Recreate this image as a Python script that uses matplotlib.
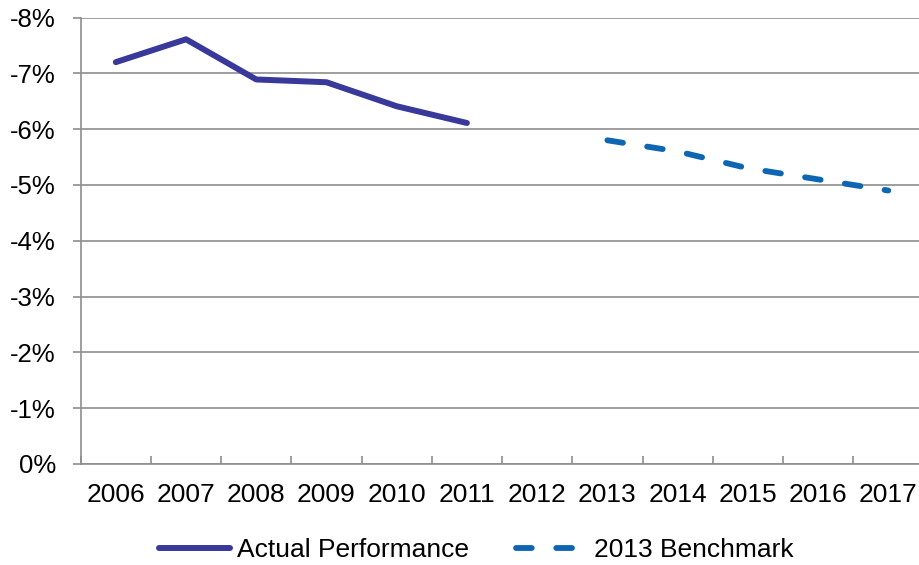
import matplotlib
matplotlib.use("Agg")
import matplotlib.pyplot as plt
from matplotlib.ticker import FixedLocator

years = ["2006", "2007", "2008", "2009", "2010", "2011",
         "2012", "2013", "2014", "2015", "2016", "2017"]
actual_years = ["2006", "2007", "2008", "2009", "2010", "2011"]
actual = [-7.2, -7.61, -6.89, -6.84, -6.41, -6.11]
bench_years = ["2013", "2014", "2015", "2016", "2017"]
benchmark = [-5.8, -5.6, -5.3, -5.1, -4.9]
y_ticks = [0, -1, -2, -3, -4, -5, -6, -7, -8]

plt.rcParams["font.family"] = ["Liberation Sans", "DejaVu Sans"]
grid_color = "#8E8E8E"

fig = plt.figure(figsize=(9.19, 5.65), dpi=100)
ax = fig.add_axes([0.0878, 0.1788, 0.917, 0.7902])

xa = [years.index(y) for y in actual_years]
xb = [years.index(y) for y in bench_years]

ax.plot(xa, actual, color="#38399A", lw=4.3, solid_capstyle="round",
        solid_joinstyle="round", label="Actual Performance", zorder=3)
ax.plot(xb, benchmark, color="#0E66B2", lw=4.2, dashes=(2.7, 4.2),
        dash_capstyle="round", label="2013 Benchmark", zorder=3)

ax.set_xlim(-0.5, len(years) - 0.5)
ax.set_ylim(0, -8)

ax.set_yticks(y_ticks)
ax.set_yticklabels([f"{v}%" for v in y_ticks])
ax.yaxis.grid(True, color=grid_color, lw=1.2)
ax.set_axisbelow(True)

ax.set_xticks(range(len(years)))
ax.set_xticklabels(years)
ax.xaxis.set_minor_locator(FixedLocator([i - 0.5 for i in range(len(years) + 1)]))

ax.tick_params(axis="x", which="major", length=0, pad=14, labelsize=19)
ax.tick_params(axis="x", which="minor", direction="in", length=5.8,
               width=1.2, color=grid_color)
ax.tick_params(axis="y", direction="out", length=5.8, width=1.2,
               color=grid_color, pad=12, labelsize=18.5)

for side in ("top", "right"):
    ax.spines[side].set_visible(False)
for side in ("left", "bottom"):
    ax.spines[side].set_color(grid_color)
    ax.spines[side].set_linewidth(1.2)

fig.legend(loc="center", bbox_to_anchor=(476 / 919, 1 - 550 / 565), ncol=2,
           frameon=False, fontsize=19, handlelength=2.7, handletextpad=0.26,
           columnspacing=1.78)

fig.savefig("out.png", dpi=100)
